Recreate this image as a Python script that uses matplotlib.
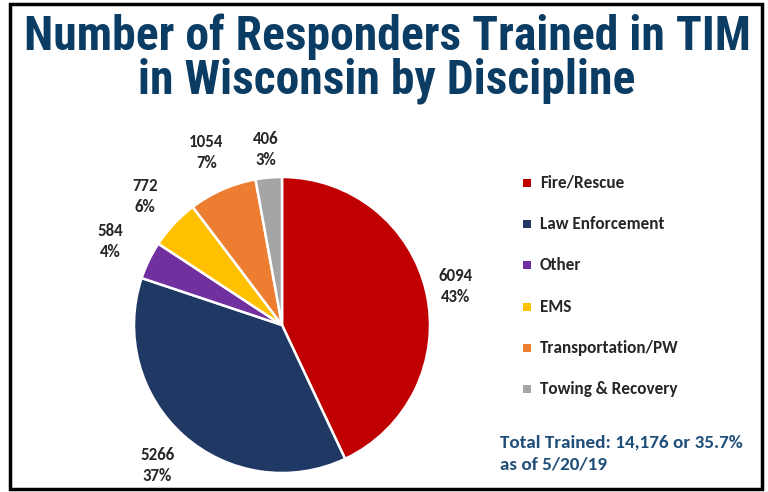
import matplotlib
matplotlib.use("Agg")
import matplotlib.pyplot as plt
from matplotlib import font_manager
from matplotlib.patches import Rectangle
import numpy as np

categories = ["Fire/Rescue", "Law Enforcement", "Other", "EMS", "Transportation/PW", "Towing & Recovery"]
values = [6094, 5266, 584, 772, 1054, 406]
pct_labels = ["43%", "37%", "4%", "6%", "7%", "3%"]
colors = ["#C00000", "#203864", "#7030A0", "#FFC000", "#ED7D31", "#A5A5A5"]
title_lines = ["Number of Responders Trained in TIM", "in Wisconsin by Discipline"]
note_lines = ["Total Trained: 14,176 or 35.7%", "as of 5/20/19"]


def pick(prefs, fallback):
    bold = {f.name for f in font_manager.fontManager.ttflist
            if (isinstance(f.weight, int) and f.weight >= 600) or str(f.weight) in ("bold", "heavy", "black")}
    for p in prefs:
        if p in bold:
            return p
    return fallback


title_font = pick(["Liberation Sans Narrow", "Arial Narrow", "Roboto Condensed", "PT Sans Narrow",
                   "Arimo"], "DejaVu Sans")
body_font = pick(["Carlito", "Calibri", "Lato"], "DejaVu Sans")

W, H = 768, 492
fig = plt.figure(figsize=(W / 100, H / 100), dpi=100)


def fx(x):
    return x / W


def fy(y):
    return 1 - y / H


# frame
fig.patches.append(Rectangle((fx(10), fy(489)), fx(762) - fx(10), fy(4) - fy(489),
                             transform=fig.transFigure, fill=False, edgecolor="black", linewidth=2.5))

title_color = "#0B3C63"
renderer = fig.canvas.get_renderer()
t1 = fig.text(fx(387), fy(50), title_lines[0], ha="center", va="baseline", fontsize=35,
              fontweight="bold", family=title_font, color=title_color)
t2 = fig.text(fx(387), fy(93), title_lines[1], ha="center", va="baseline", fontsize=35,
              fontweight="bold", family=title_font, color=title_color)
w1 = t1.get_window_extent(renderer).width
scale = 726.0 / w1
fs_title = min(35 * scale, 40)
t1.set_fontsize(fs_title)
t2.set_fontsize(fs_title)

# pie
cx, cy, r = 282, 325, 148
ax = fig.add_axes([fx(cx - r), fy(cy + r), (2 * r) / W, (2 * r) / H])
wedges, _ = ax.pie(values, colors=colors, startangle=90, counterclock=False,
                   wedgeprops=dict(edgecolor="white", linewidth=1.8))
ax.set_xlim(-1, 1)
ax.set_ylim(-1, 1)
ax.set_aspect("equal")
ax.axis("off")

dists = [1.2, 1.27, 1.29, 1.27, 1.27, 1.19]
for w, v, p, d in zip(wedges, values, pct_labels, dists):
    ang = np.deg2rad((w.theta1 + w.theta2) / 2)
    ax.text(d * np.cos(ang), d * np.sin(ang), f"{v}\n{p}", ha="center", va="center",
            fontsize=12.2, fontweight="bold", family=body_font, color="#262626",
            linespacing=1.4, clip_on=False)

# legend
lx, ly0, dy = 527, 183, 41.2
for i, (c, name) in enumerate(zip(colors, categories)):
    y = ly0 + i * dy
    fig.patches.append(Rectangle((fx(lx - 4), fy(y + 4)), 8 / W, 8 / H,
                                 transform=fig.transFigure, facecolor=c, edgecolor="none"))
    fig.text(fx(540), fy(y), name, ha="left", va="center", fontsize=12.3,
             fontweight="bold", family=body_font, color="#262626")

note_color = "#1F4E79"
fig.text(fx(500), fy(442), note_lines[0], ha="left", va="center", fontsize=13.8,
         fontweight="bold", family=body_font, color=note_color)
fig.text(fx(500), fy(465), note_lines[1], ha="left", va="center", fontsize=13.8,
         fontweight="bold", family=body_font, color=note_color)

fig.savefig("out.png", dpi=100)
